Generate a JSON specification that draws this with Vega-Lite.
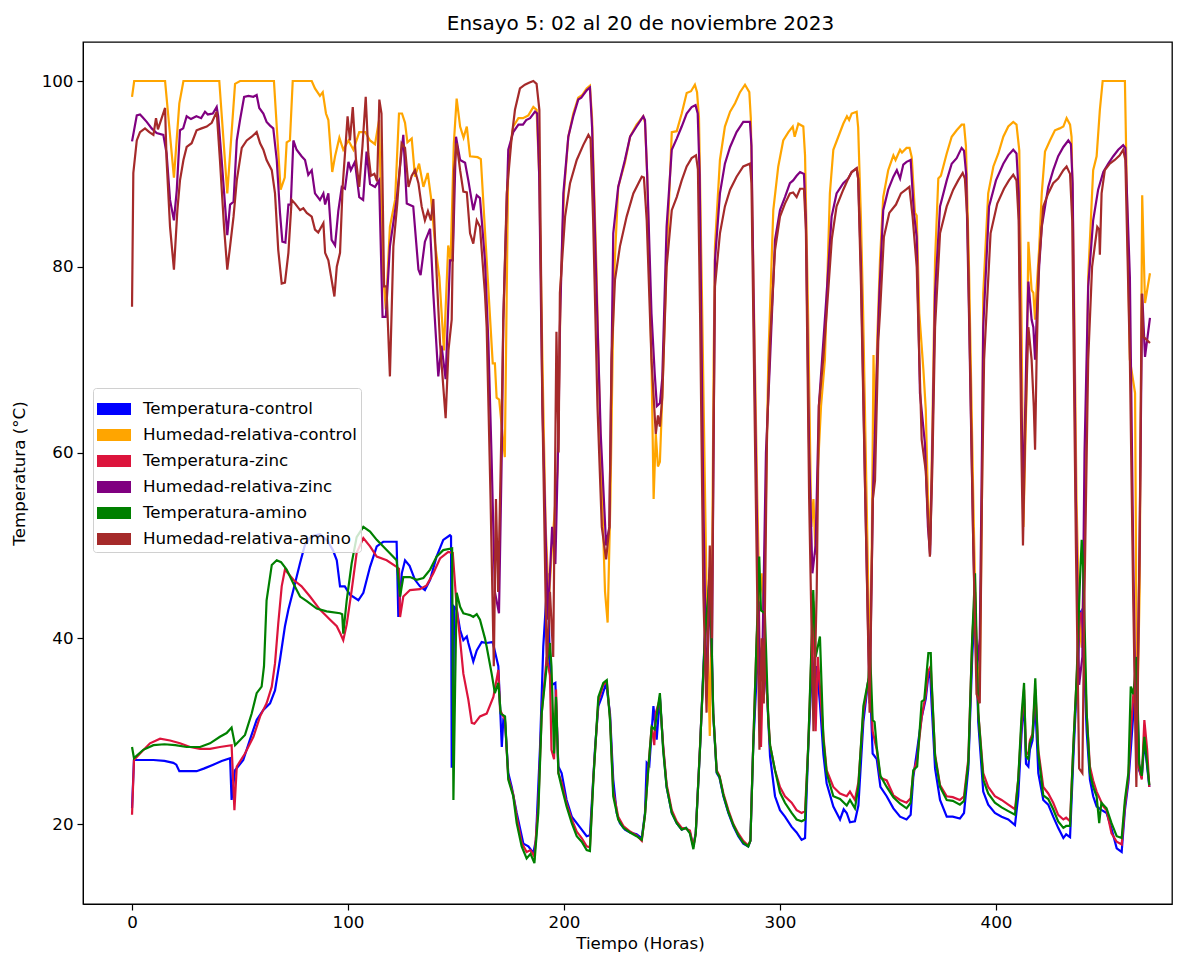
{
"$schema":"https://vega.github.io/schema/vega-lite/v6.json",
"width":1089,"height":862,
"autosize":{"type":"none"},
"padding":{"left":83,"top":42,"right":15,"bottom":52},
"background":"white",
"title":{"text":"Ensayo 5: 02 al 20 de noviembre 2023","fontSize":20,"font":"DejaVu Sans","fontWeight":"normal","color":"black","offset":8,"anchor":"middle","dx":13},
"config":{
"view":{"stroke":"black","strokeWidth":1.3},
"axis":{"labelFont":"DejaVu Sans","titleFont":"DejaVu Sans","labelFontSize":16.7,"titleFontSize":16.7,"labelColor":"black","titleColor":"black","tickColor":"black","domainColor":"black","tickSize":6,"tickWidth":1.2,"grid":false,"titleFontWeight":"normal","labelPadding":4}
},
"datasets":{
"TC":[{"h":0,"v":21.7},{"h":0.9,"v":26.9},{"h":9.9,"v":26.9},{"h":15,"v":26.8},{"h":19.1,"v":26.6},{"h":20.5,"v":26.4},{"h":21.9,"v":25.7},{"h":29.9,"v":25.7},{"h":33.5,"v":26},{"h":37.6,"v":26.4},{"h":41.5,"v":26.8},{"h":45.4,"v":27.1},{"h":46.1,"v":22.6},{"h":47.7,"v":25.8},{"h":51.5,"v":26.9},{"h":54.6,"v":29.1},{"h":57.7,"v":31.2},{"h":60.8,"v":32.3},{"h":63.9,"v":33},{"h":66.2,"v":34.4},{"h":68.5,"v":37.7},{"h":70.8,"v":41.3},{"h":72.4,"v":43.1},{"h":74.7,"v":45.2},{"h":77.8,"v":48.1},{"h":80.1,"v":50.1},{"h":83,"v":51},{"h":87,"v":51.2},{"h":90.5,"v":50.5},{"h":93,"v":49.5},{"h":94.8,"v":48.4},{"h":96.3,"v":45.6},{"h":98.5,"v":45.6},{"h":100.9,"v":44.7},{"h":104.8,"v":44.1},{"h":107.1,"v":44.9},{"h":110.2,"v":47.7},{"h":113.3,"v":49.9},{"h":116.3,"v":50.4},{"h":122.5,"v":50.4},{"h":123.3,"v":42.3},{"h":124.9,"v":47},{"h":126.4,"v":48.4},{"h":128.5,"v":47.8},{"h":131,"v":46.3},{"h":133.3,"v":45.6},{"h":135.6,"v":45.2},{"h":138,"v":46.3},{"h":141,"v":48.8},{"h":144.1,"v":50.6},{"h":147.2,"v":51.1},{"h":147.7,"v":51},{"h":148,"v":26.2},{"h":148.6,"v":26.2},{"h":149.1,"v":43.4},{"h":150.3,"v":43.1},{"h":151.9,"v":40.9},{"h":153.4,"v":39.8},{"h":155,"v":40.2},{"h":155.7,"v":39.5},{"h":158,"v":37.5},{"h":159.6,"v":38.7},{"h":161.9,"v":39.6},{"h":164,"v":39.5},{"h":167,"v":39.6},{"h":169.6,"v":37},{"h":171.2,"v":28.3},{"h":171.9,"v":31.2},{"h":172.7,"v":31},{"h":174.2,"v":25.5},{"h":175.8,"v":24},{"h":178.1,"v":21.2},{"h":181.2,"v":17.9},{"h":183.5,"v":17.6},{"h":185.8,"v":16.9},{"h":187,"v":18.3},{"h":188.9,"v":28.3},{"h":190.4,"v":39.1},{"h":192.5,"v":47},{"h":193.5,"v":36.3},{"h":194.5,"v":35},{"h":196,"v":35.2},{"h":197.4,"v":26.2},{"h":198.9,"v":25.5},{"h":201.2,"v":22.6},{"h":203.6,"v":20.8},{"h":205.9,"v":20.1},{"h":208.2,"v":19.4},{"h":210.5,"v":18.7},{"h":212,"v":18.8},{"h":214.4,"v":28.3},{"h":215.9,"v":32.7},{"h":217.5,"v":33.7},{"h":219.5,"v":35.2},{"h":221.3,"v":31.9},{"h":222.8,"v":24.8},{"h":224.4,"v":21.2},{"h":225.9,"v":20.1},{"h":228.2,"v":19.4},{"h":230.6,"v":19.1},{"h":233.6,"v":18.9},{"h":236,"v":18.5},{"h":237.5,"v":21.2},{"h":238.3,"v":26.6},{"h":239.5,"v":26.3},{"h":241.4,"v":32.7},{"h":242.9,"v":29.1},{"h":244.4,"v":33.7},{"h":245.9,"v":28.3},{"h":247.5,"v":24},{"h":249.9,"v":21.2},{"h":252.2,"v":20.1},{"h":254.5,"v":19.4},{"h":256.5,"v":19.6},{"h":258.3,"v":19.1},{"h":259.9,"v":17.6},{"h":261,"v":19.1},{"h":263,"v":28.3},{"h":265.3,"v":40.9},{"h":267.6,"v":47.7},{"h":268.4,"v":39.1},{"h":269.1,"v":31.9},{"h":270.7,"v":25.5},{"h":272,"v":25},{"h":273.8,"v":23},{"h":276.1,"v":21.2},{"h":278.4,"v":19.8},{"h":280.7,"v":18.7},{"h":283,"v":17.9},{"h":285.3,"v":17.6},{"h":286.3,"v":18.2},{"h":287.6,"v":28.3},{"h":289.2,"v":36},{"h":290.4,"v":39},{"h":291.5,"v":35.5},{"h":292.5,"v":38.4},{"h":294,"v":34},{"h":295.4,"v":27.3},{"h":297.7,"v":23},{"h":300,"v":21.5},{"h":302.3,"v":20.8},{"h":305.4,"v":19.7},{"h":307.7,"v":19.1},{"h":310,"v":18.3},{"h":311.6,"v":18.5},{"h":313.1,"v":28.3},{"h":315,"v":38},{"h":316,"v":35},{"h":317,"v":37},{"h":318.5,"v":33},{"h":320.1,"v":27.5},{"h":321.6,"v":24.4},{"h":324.7,"v":21.9},{"h":327.8,"v":20.5},{"h":329.5,"v":21.6},{"h":330.9,"v":21.2},{"h":332.4,"v":20.2},{"h":334.7,"v":20.3},{"h":336.3,"v":22},{"h":338.6,"v":31},{"h":340.9,"v":35.5},{"h":341.7,"v":35},{"h":342.9,"v":27.6},{"h":344.8,"v":27},{"h":346.5,"v":24},{"h":349.4,"v":23},{"h":352.5,"v":21.7},{"h":355.6,"v":20.8},{"h":358.6,"v":20.5},{"h":360.5,"v":21},{"h":361.7,"v":25},{"h":363.5,"v":28},{"h":365.6,"v":31.5},{"h":367.5,"v":33.5},{"h":368.7,"v":36},{"h":369.5,"v":36.5},{"h":370.2,"v":33},{"h":371.8,"v":26},{"h":374.1,"v":22.6},{"h":377.2,"v":20.8},{"h":380,"v":20.8},{"h":383.3,"v":20.6},{"h":385.2,"v":21.2},{"h":387.2,"v":26},{"h":389,"v":38},{"h":390.3,"v":44},{"h":391.8,"v":31},{"h":394.1,"v":23.5},{"h":396.4,"v":22.1},{"h":399.5,"v":21.2},{"h":402.6,"v":20.8},{"h":405.7,"v":20.5},{"h":408.8,"v":19.9},{"h":410.3,"v":23},{"h":411.9,"v":30},{"h":413,"v":33.5},{"h":413.9,"v":26.5},{"h":415,"v":26.2},{"h":415.7,"v":28},{"h":416.9,"v":29},{"h":418.2,"v":33},{"h":419.6,"v":25.5},{"h":421.9,"v":22.6},{"h":424.2,"v":22.1},{"h":426.5,"v":20.8},{"h":428.8,"v":19.6},{"h":431.2,"v":18.5},{"h":432.5,"v":18.9},{"h":434.3,"v":18.6},{"h":435.8,"v":27},{"h":437.3,"v":34.5},{"h":438.9,"v":42.7},{"h":439.7,"v":43},{"h":441,"v":36},{"h":442,"v":30},{"h":443.5,"v":24.8},{"h":445,"v":23},{"h":446.6,"v":21.9},{"h":449,"v":21.5},{"h":451.2,"v":21.2},{"h":453.5,"v":19.5},{"h":455.9,"v":17.4},{"h":458.2,"v":17},{"h":459.7,"v":21.5},{"h":461.3,"v":24.5},{"h":462.4,"v":28},{"h":463.6,"v":31.9},{"h":465.1,"v":37},{"h":466.3,"v":25.8},{"h":467.5,"v":25},{"h":468.7,"v":29},{"h":471,"v":24}],
"HC":[{"h":0,"v":98.3},{"h":1,"v":100},{"h":15.3,"v":100},{"h":19.4,"v":89.6},{"h":21.9,"v":97.6},{"h":23.8,"v":100},{"h":40.4,"v":100},{"h":44.1,"v":87.9},{"h":47.7,"v":99.7},{"h":50,"v":100},{"h":65.7,"v":100},{"h":68.8,"v":88.3},{"h":70.7,"v":89.6},{"h":71.6,"v":93.4},{"h":73.1,"v":93.6},{"h":74.4,"v":100},{"h":83.2,"v":100},{"h":84.7,"v":99.2},{"h":87,"v":98.4},{"h":88.3,"v":98.8},{"h":89.8,"v":96.5},{"h":90.9,"v":95.8},{"h":92.7,"v":90.2},{"h":94,"v":91.9},{"h":96,"v":93.9},{"h":97.8,"v":92.6},{"h":100.2,"v":93.6},{"h":102.5,"v":92.6},{"h":105.2,"v":94.5},{"h":108,"v":94.5},{"h":110.2,"v":93.6},{"h":112.5,"v":93.2},{"h":114.4,"v":95.8},{"h":116,"v":80},{"h":117.5,"v":75.4},{"h":119.4,"v":84.3},{"h":121.8,"v":87.2},{"h":123.6,"v":96.5},{"h":125,"v":96.5},{"h":126.4,"v":95.5},{"h":127.5,"v":93.4},{"h":129.5,"v":93.8},{"h":131,"v":89.7},{"h":132.9,"v":91.1},{"h":134.9,"v":88.6},{"h":136.9,"v":90.1},{"h":138.4,"v":87.5},{"h":140.3,"v":82.5},{"h":142.3,"v":78.9},{"h":144.4,"v":71},{"h":146.4,"v":82.3},{"h":147.5,"v":80.7},{"h":149,"v":93.3},{"h":150.3,"v":98.1},{"h":151.9,"v":95.1},{"h":153.5,"v":93.9},{"h":155,"v":95.1},{"h":156.5,"v":91.9},{"h":160,"v":91.8},{"h":161.5,"v":91.6},{"h":164.2,"v":80.7},{"h":167,"v":69.6},{"h":168,"v":69.6},{"h":168.8,"v":65.9},{"h":170,"v":65.7},{"h":171.5,"v":62},{"h":172.6,"v":59.5},{"h":174.2,"v":91.5},{"h":176.5,"v":95.1},{"h":178.9,"v":96},{"h":181,"v":96},{"h":183.5,"v":96.3},{"h":185.8,"v":97.2},{"h":187.3,"v":96.9},{"h":188.5,"v":90},{"h":190,"v":70},{"h":191.5,"v":52},{"h":193,"v":44},{"h":194.5,"v":50},{"h":195.5,"v":53},{"h":197,"v":58},{"h":198.5,"v":78},{"h":200,"v":88},{"h":202,"v":94},{"h":204.3,"v":96.5},{"h":206.6,"v":98.2},{"h":208.5,"v":98.5},{"h":210.5,"v":99.2},{"h":212,"v":99.5},{"h":213,"v":96},{"h":215,"v":80},{"h":217,"v":60},{"h":219,"v":45},{"h":220.2,"v":41.7},{"h":221.5,"v":55},{"h":223,"v":78},{"h":225.1,"v":88.6},{"h":228.2,"v":91.2},{"h":230.6,"v":94},{"h":233.6,"v":95.3},{"h":236.7,"v":96.2},{"h":237.5,"v":95.5},{"h":238.5,"v":90},{"h":240.5,"v":70},{"h":241.5,"v":55},{"h":242.5,"v":62},{"h":243.5,"v":58.5},{"h":244.4,"v":59},{"h":245.5,"v":66},{"h":247.5,"v":80.7},{"h":249.9,"v":94.5},{"h":252.2,"v":94.6},{"h":254.5,"v":96.5},{"h":256.8,"v":98.7},{"h":258.8,"v":98.9},{"h":260.6,"v":99.6},{"h":261.6,"v":98.8},{"h":262.5,"v":96},{"h":264,"v":75},{"h":266,"v":45},{"h":267.5,"v":29.5},{"h":268.5,"v":45},{"h":269.3,"v":70},{"h":269.9,"v":82.2},{"h":272.2,"v":91.5},{"h":274.5,"v":95.1},{"h":276.9,"v":96.7},{"h":279.2,"v":97.6},{"h":281.5,"v":98.8},{"h":283.8,"v":99.6},{"h":285.8,"v":98.8},{"h":286.5,"v":96},{"h":288,"v":75},{"h":289.5,"v":55},{"h":290.5,"v":44},{"h":291.5,"v":47},{"h":292.5,"v":43},{"h":293.5,"v":55},{"h":294.6,"v":70},{"h":296.9,"v":86.1},{"h":299.2,"v":90.8},{"h":301.5,"v":93.6},{"h":303.9,"v":94.5},{"h":305.9,"v":95.1},{"h":306.8,"v":94},{"h":308.5,"v":95.4},{"h":310.8,"v":95.1},{"h":311.6,"v":92},{"h":313,"v":75},{"h":314.5,"v":52},{"h":315.5,"v":55},{"h":316.5,"v":49},{"h":317.5,"v":58},{"h":319,"v":65},{"h":320.8,"v":70},{"h":323.1,"v":87.9},{"h":324.7,"v":92.6},{"h":327,"v":94},{"h":329.3,"v":95.4},{"h":331,"v":96.2},{"h":332,"v":95.8},{"h":333.2,"v":96.5},{"h":335.5,"v":96.7},{"h":336.2,"v":95},{"h":337.5,"v":85},{"h":338.5,"v":75},{"h":340.5,"v":50},{"h":341.5,"v":36},{"h":342.5,"v":50},{"h":343.3,"v":70.5},{"h":344,"v":62},{"h":345,"v":72},{"h":346.3,"v":80.7},{"h":347.8,"v":87.5},{"h":350.1,"v":90.4},{"h":352.5,"v":92},{"h":353.5,"v":91.5},{"h":355.6,"v":92.6},{"h":356.5,"v":92.3},{"h":358.6,"v":92.8},{"h":360,"v":92.8},{"h":361,"v":91.8},{"h":362.5,"v":85.8},{"h":363.3,"v":85.5},{"h":364.5,"v":75},{"h":366.4,"v":68.9},{"h":367.5,"v":64.6},{"h":368.5,"v":55},{"h":369.5,"v":50},{"h":370.5,"v":62},{"h":371.8,"v":80.7},{"h":373.3,"v":89.5},{"h":374.5,"v":89.8},{"h":377.2,"v":92.2},{"h":379.5,"v":94},{"h":381.8,"v":94.7},{"h":384.1,"v":95.3},{"h":385.2,"v":95.3},{"h":386.1,"v":93},{"h":387.5,"v":80},{"h":389.5,"v":55},{"h":391,"v":38},{"h":392.5,"v":35},{"h":393.5,"v":55},{"h":394.1,"v":77.1},{"h":396.4,"v":87.9},{"h":398.8,"v":90.8},{"h":401.1,"v":92.2},{"h":403.4,"v":94},{"h":405.7,"v":95.1},{"h":408,"v":95.6},{"h":409.5,"v":95.3},{"h":410.8,"v":92.5},{"h":411.8,"v":75},{"h":412.7,"v":52},{"h":414,"v":65},{"h":415,"v":82.7},{"h":416.5,"v":77.5},{"h":417.3,"v":77.2},{"h":418.1,"v":74.3},{"h":418.8,"v":77.5},{"h":420,"v":82},{"h":421.2,"v":87.9},{"h":422.7,"v":92.4},{"h":425,"v":93.6},{"h":427.3,"v":94.7},{"h":429.5,"v":94.9},{"h":431.2,"v":95.1},{"h":432.7,"v":96},{"h":434.3,"v":95.3},{"h":435,"v":94},{"h":436,"v":80},{"h":437.3,"v":55},{"h":438.5,"v":42},{"h":439.7,"v":39},{"h":441,"v":50},{"h":442.7,"v":78.9},{"h":445,"v":90.4},{"h":446.6,"v":91.9},{"h":448.1,"v":96.9},{"h":449.4,"v":100},{"h":459.7,"v":100},{"h":462,"v":70},{"h":464.4,"v":66.4},{"h":465.3,"v":30},{"h":466.5,"v":45},{"h":467.7,"v":87.7},{"h":469,"v":76.1},{"h":471.3,"v":79.3}],
"TZ":[{"h":0,"v":21},{"h":0.9,"v":26.9},{"h":3.7,"v":27.6},{"h":8.3,"v":28.7},{"h":13,"v":29.2},{"h":17.6,"v":29},{"h":22.2,"v":28.7},{"h":26.9,"v":28.3},{"h":31.5,"v":28.1},{"h":36.1,"v":28.1},{"h":40.7,"v":28.3},{"h":46.1,"v":28.5},{"h":47.4,"v":21.5},{"h":48.5,"v":26.2},{"h":52.3,"v":27.6},{"h":56.2,"v":29.4},{"h":59.3,"v":31.6},{"h":62.3,"v":33},{"h":64.7,"v":34.8},{"h":66.2,"v":37.3},{"h":67.7,"v":41.6},{"h":69.3,"v":45.6},{"h":70.8,"v":47.4},{"h":74.7,"v":46.3},{"h":78.5,"v":45.6},{"h":82.4,"v":44.5},{"h":87,"v":43.1},{"h":91.7,"v":42},{"h":94.8,"v":41.3},{"h":96.5,"v":40.5},{"h":97.8,"v":39.8},{"h":99.4,"v":41.5},{"h":101.7,"v":45.2},{"h":104,"v":49.2},{"h":107.1,"v":50.8},{"h":110.2,"v":49.9},{"h":113.3,"v":48.8},{"h":117.9,"v":48.4},{"h":122.5,"v":47.7},{"h":123.6,"v":47.5},{"h":124.1,"v":42.3},{"h":125.6,"v":44.5},{"h":128.7,"v":45.2},{"h":133.3,"v":45.3},{"h":136.4,"v":45.7},{"h":139.5,"v":47},{"h":142.6,"v":48.6},{"h":146.4,"v":49.3},{"h":148.5,"v":49.2},{"h":150.3,"v":43.4},{"h":151.9,"v":39.8},{"h":153.4,"v":36.2},{"h":155.7,"v":33.4},{"h":157.3,"v":30.9},{"h":158.5,"v":30.8},{"h":161.1,"v":31.6},{"h":164.2,"v":31.9},{"h":167.3,"v":33.7},{"h":169.6,"v":36.6},{"h":170.4,"v":32.3},{"h":172.7,"v":31.2},{"h":174.2,"v":25},{"h":176.5,"v":23.2},{"h":178.1,"v":20.8},{"h":180.4,"v":18},{"h":182.7,"v":17},{"h":184.5,"v":17.2},{"h":186.3,"v":16.5},{"h":188.1,"v":22},{"h":189.7,"v":32},{"h":192,"v":38},{"h":193.5,"v":36},{"h":194.2,"v":28},{"h":195.4,"v":27},{"h":196.3,"v":34.5},{"h":197.4,"v":25.5},{"h":198.9,"v":24.5},{"h":201.2,"v":22.2},{"h":203.6,"v":20.5},{"h":205.9,"v":19.2},{"h":208.2,"v":18.5},{"h":210.5,"v":17.6},{"h":212,"v":17.5},{"h":213.6,"v":25},{"h":215.9,"v":33.2},{"h":218.2,"v":35},{"h":219.8,"v":35.3},{"h":221.3,"v":31.5},{"h":222.8,"v":23.5},{"h":225.1,"v":20.8},{"h":227.5,"v":19.8},{"h":230.6,"v":19.2},{"h":233.6,"v":18.8},{"h":236,"v":18.2},{"h":237.5,"v":21},{"h":239,"v":26},{"h":240.6,"v":30.5},{"h":241.8,"v":28.5},{"h":242.5,"v":32},{"h":244.4,"v":33.5},{"h":245.9,"v":28.5},{"h":247.5,"v":24.3},{"h":249.9,"v":21.5},{"h":252.2,"v":20.3},{"h":254.5,"v":19.6},{"h":256.5,"v":19.5},{"h":258.3,"v":19.3},{"h":259.9,"v":17.6},{"h":261,"v":19},{"h":263,"v":28.5},{"h":265.3,"v":40},{"h":267.6,"v":46},{"h":268.4,"v":38},{"h":269.1,"v":31.9},{"h":270.7,"v":25.8},{"h":272,"v":25.2},{"h":273.8,"v":23.3},{"h":276.1,"v":21.5},{"h":278.4,"v":20},{"h":280.7,"v":19},{"h":283,"v":18.2},{"h":285.3,"v":17.7},{"h":286.3,"v":18.2},{"h":287.6,"v":28.5},{"h":289.2,"v":40},{"h":290.2,"v":44},{"h":291.2,"v":28.3},{"h":292.5,"v":40},{"h":294.6,"v":31.5},{"h":295.4,"v":28.5},{"h":297.7,"v":25.8},{"h":300,"v":24},{"h":302.3,"v":23},{"h":305.4,"v":22.3},{"h":307.7,"v":21.5},{"h":310,"v":21.2},{"h":311.6,"v":21.4},{"h":313.1,"v":28.5},{"h":315.4,"v":44},{"h":316.5,"v":30},{"h":317.5,"v":38},{"h":320.1,"v":29.5},{"h":321.6,"v":25.8},{"h":324.7,"v":24},{"h":327.8,"v":23.3},{"h":330.9,"v":23},{"h":332.4,"v":23.5},{"h":334.7,"v":22.6},{"h":336.3,"v":24.5},{"h":338.6,"v":32},{"h":340.9,"v":35.5},{"h":341.7,"v":36},{"h":342.9,"v":30},{"h":344.8,"v":28},{"h":346.5,"v":25},{"h":349.4,"v":24.7},{"h":352.5,"v":23.1},{"h":355.6,"v":22.6},{"h":358.6,"v":22.3},{"h":360.5,"v":22.8},{"h":361.7,"v":25.5},{"h":363.5,"v":27},{"h":365.6,"v":31.5},{"h":367.5,"v":34},{"h":368.7,"v":36.5},{"h":369.8,"v":37},{"h":370.2,"v":35},{"h":371.8,"v":27.5},{"h":374.1,"v":24.2},{"h":377.2,"v":23},{"h":380,"v":22.9},{"h":383.3,"v":22.6},{"h":385.2,"v":23},{"h":387.2,"v":27},{"h":389,"v":40},{"h":390.3,"v":45},{"h":391.8,"v":32},{"h":394.1,"v":25.5},{"h":396.4,"v":24},{"h":399.5,"v":23},{"h":402.6,"v":22.6},{"h":405.7,"v":22.1},{"h":408.8,"v":21.6},{"h":410.3,"v":24.8},{"h":411.9,"v":31},{"h":413,"v":34.5},{"h":413.9,"v":27.8},{"h":415,"v":27.5},{"h":415.7,"v":29},{"h":416.9,"v":29.7},{"h":418.2,"v":34.5},{"h":419.6,"v":28},{"h":421.9,"v":24},{"h":424.2,"v":23.3},{"h":426.5,"v":22.3},{"h":428.8,"v":21},{"h":431.2,"v":20.5},{"h":432.5,"v":20.7},{"h":434.3,"v":20.3},{"h":435.8,"v":28.3},{"h":437.3,"v":35.5},{"h":438.9,"v":42.7},{"h":439.7,"v":42.7},{"h":441,"v":38},{"h":442,"v":31.9},{"h":443.5,"v":26.2},{"h":445,"v":24.7},{"h":446.6,"v":23.5},{"h":449.7,"v":21.9},{"h":451.2,"v":21.5},{"h":453.5,"v":19},{"h":455.9,"v":18.1},{"h":458.2,"v":17.8},{"h":459.7,"v":22},{"h":461.3,"v":25},{"h":462.4,"v":30},{"h":463.6,"v":34},{"h":464.5,"v":33},{"h":465.1,"v":34.5},{"h":466.3,"v":26},{"h":467.5,"v":24.8},{"h":468.7,"v":31.2},{"h":470,"v":28},{"h":471,"v":24}],
"HZ":[{"h":0,"v":93.5},{"h":2.2,"v":96.3},{"h":3.7,"v":96.4},{"h":4.9,"v":96.1},{"h":6.8,"v":95.6},{"h":9.1,"v":94.9},{"h":11.4,"v":94.4},{"h":14.5,"v":94.2},{"h":16,"v":92.2},{"h":17.6,"v":87.2},{"h":19.4,"v":85},{"h":20.7,"v":88.2},{"h":22.2,"v":94.7},{"h":23.7,"v":94.9},{"h":25.3,"v":96.2},{"h":27.3,"v":95.9},{"h":29.8,"v":96.2},{"h":32,"v":96},{"h":33.8,"v":96.7},{"h":35.1,"v":96.4},{"h":37.4,"v":96.5},{"h":39.2,"v":97.2},{"h":39.9,"v":96.2},{"h":41.5,"v":91.5},{"h":43.1,"v":86.5},{"h":44.1,"v":83.4},{"h":45.4,"v":86.7},{"h":47,"v":87},{"h":48.5,"v":93.6},{"h":50,"v":95.8},{"h":51.9,"v":98.3},{"h":53.9,"v":98.4},{"h":56.2,"v":98.3},{"h":57.7,"v":98.5},{"h":58.9,"v":97.1},{"h":60.8,"v":96.5},{"h":62.3,"v":95.6},{"h":63.9,"v":95.2},{"h":65.4,"v":94.9},{"h":67,"v":91.5},{"h":68.5,"v":85.8},{"h":69.6,"v":82.7},{"h":71,"v":82.6},{"h":72.4,"v":86.7},{"h":73.5,"v":86.7},{"h":74.7,"v":93.6},{"h":76.2,"v":92.6},{"h":78.5,"v":91.9},{"h":80.1,"v":91.5},{"h":81.6,"v":89.9},{"h":83.2,"v":90.4},{"h":84.7,"v":87.9},{"h":87,"v":87.2},{"h":88.6,"v":87.9},{"h":89.4,"v":86.7},{"h":90.9,"v":87.9},{"h":92.4,"v":82.9},{"h":94,"v":82.3},{"h":95.5,"v":86},{"h":97.1,"v":88.6},{"h":98.6,"v":88.4},{"h":100.2,"v":91.3},{"h":101.3,"v":90.4},{"h":103.2,"v":91.3},{"h":105.2,"v":87.5},{"h":107,"v":87.2},{"h":108.6,"v":92.4},{"h":110.2,"v":88.9},{"h":112.5,"v":88.6},{"h":114.4,"v":89.3},{"h":116,"v":74.6},{"h":117.5,"v":74.6},{"h":119.4,"v":82.2},{"h":122.5,"v":87.2},{"h":125.6,"v":94.2},{"h":127.2,"v":86.8},{"h":130.2,"v":86.5},{"h":132.6,"v":79.7},{"h":133.6,"v":79.1},{"h":135.6,"v":82.7},{"h":138,"v":84.1},{"h":139.5,"v":77.1},{"h":141.8,"v":68.2},{"h":143.3,"v":71.5},{"h":145.2,"v":67.9},{"h":147.2,"v":80.7},{"h":148.5,"v":80.7},{"h":150,"v":94},{"h":151.9,"v":91.5},{"h":154.2,"v":91.2},{"h":155.7,"v":89.3},{"h":158,"v":86.1},{"h":159.6,"v":87.7},{"h":161.1,"v":87.4},{"h":163.4,"v":80.7},{"h":165,"v":71.8},{"h":166.5,"v":59.2},{"h":168,"v":45},{"h":169.9,"v":42.7},{"h":171.2,"v":60},{"h":171.9,"v":74.3},{"h":174.2,"v":92.6},{"h":176.5,"v":94.5},{"h":178.9,"v":95.3},{"h":181,"v":95.3},{"h":182.5,"v":95.8},{"h":184.3,"v":96},{"h":186.6,"v":96.7},{"h":187.6,"v":96.5},{"h":188.5,"v":90},{"h":190,"v":65},{"h":192.5,"v":42},{"h":194.5,"v":52},{"h":196,"v":48},{"h":197.5,"v":63},{"h":198.1,"v":73.5},{"h":199.7,"v":87.9},{"h":202,"v":94},{"h":204.3,"v":96.2},{"h":206.6,"v":98},{"h":208,"v":98.2},{"h":210.5,"v":99},{"h":212,"v":99.3},{"h":213,"v":95},{"h":215,"v":78},{"h":217,"v":62},{"h":219.5,"v":50},{"h":221,"v":52},{"h":222.8,"v":83.6},{"h":225.1,"v":88.6},{"h":228.2,"v":91.5},{"h":230.6,"v":94},{"h":233.6,"v":95.1},{"h":236.7,"v":96.2},{"h":237.5,"v":95.8},{"h":238.5,"v":90},{"h":240.5,"v":75},{"h":242,"v":68.5},{"h":243,"v":65},{"h":244.4,"v":65.3},{"h":245.5,"v":68},{"h":247.5,"v":84.3},{"h":249.9,"v":92.6},{"h":252.2,"v":93.8},{"h":254.5,"v":95.1},{"h":256.8,"v":96.5},{"h":259.1,"v":97.2},{"h":260.9,"v":97.4},{"h":261.9,"v":96.5},{"h":262.8,"v":90},{"h":264.5,"v":55},{"h":266,"v":34},{"h":267.5,"v":45},{"h":268.5,"v":38},{"h":269.9,"v":80.7},{"h":272.2,"v":87.9},{"h":274.5,"v":91.1},{"h":276.9,"v":92.9},{"h":279.9,"v":94.5},{"h":283,"v":95.6},{"h":286.1,"v":95.6},{"h":286.8,"v":93},{"h":288.5,"v":65},{"h":290.5,"v":36},{"h":292,"v":40},{"h":293.5,"v":60},{"h":295.4,"v":70},{"h":297.7,"v":82.9},{"h":300,"v":86.1},{"h":302.3,"v":87.5},{"h":304.6,"v":89},{"h":306.1,"v":89.3},{"h":307.7,"v":89.8},{"h":309.3,"v":90.2},{"h":311.1,"v":90},{"h":312,"v":85},{"h":313.5,"v":60},{"h":315,"v":47},{"h":316.5,"v":50},{"h":318,"v":65},{"h":321.6,"v":77.1},{"h":323.9,"v":85.4},{"h":326.2,"v":87.9},{"h":329.3,"v":89},{"h":331.6,"v":89.5},{"h":333.2,"v":90.2},{"h":335.5,"v":90.6},{"h":336.2,"v":89.5},{"h":337.5,"v":80},{"h":339.5,"v":55},{"h":341.5,"v":33},{"h":343,"v":55},{"h":345,"v":70},{"h":346,"v":77.1},{"h":347.8,"v":86.1},{"h":350.1,"v":88.3},{"h":352.5,"v":89.7},{"h":354.1,"v":90.4},{"h":355.6,"v":89.5},{"h":357.1,"v":91},{"h":358.6,"v":91.3},{"h":360.5,"v":91.5},{"h":362,"v":85.8},{"h":363.3,"v":83.2},{"h":364.8,"v":66.4},{"h":367.1,"v":61},{"h":368.5,"v":52},{"h":369.5,"v":49},{"h":370.5,"v":60},{"h":371.8,"v":77.1},{"h":374.1,"v":86.5},{"h":377.2,"v":89.3},{"h":379.5,"v":91.1},{"h":381.8,"v":91.7},{"h":384.1,"v":92.8},{"h":385.2,"v":92.5},{"h":386.2,"v":90},{"h":387.5,"v":75},{"h":389.5,"v":50},{"h":391,"v":36},{"h":392.5,"v":40},{"h":393.5,"v":60},{"h":394.1,"v":73.5},{"h":396.8,"v":86.5},{"h":400,"v":89.3},{"h":403.4,"v":91.1},{"h":405.7,"v":92},{"h":408,"v":92.6},{"h":409.5,"v":92.2},{"h":410.5,"v":88},{"h":411.8,"v":65},{"h":412.7,"v":55},{"h":414,"v":70},{"h":415,"v":78.4},{"h":416.5,"v":74.3},{"h":417.3,"v":73.5},{"h":418.1,"v":70},{"h":418.8,"v":74.3},{"h":420,"v":80},{"h":421.2,"v":84.3},{"h":424.2,"v":88.6},{"h":426.5,"v":90.4},{"h":428.8,"v":91.9},{"h":431.2,"v":92.9},{"h":433.5,"v":93.6},{"h":434.7,"v":93.2},{"h":435.5,"v":89},{"h":437,"v":55},{"h":438.5,"v":35},{"h":440,"v":38},{"h":441,"v":60},{"h":442.7,"v":77.9},{"h":445,"v":85},{"h":447.3,"v":88.3},{"h":449.7,"v":90.2},{"h":452,"v":91.1},{"h":454.3,"v":91.9},{"h":456.6,"v":92.6},{"h":458.9,"v":93.1},{"h":459.9,"v":92.8},{"h":462,"v":78.9},{"h":463.5,"v":50},{"h":465,"v":26},{"h":466.5,"v":50},{"h":467.7,"v":77.1},{"h":469,"v":70.3},{"h":471.3,"v":74.5}],
"TA":[{"h":0,"v":28.3},{"h":0.9,"v":27.1},{"h":5.2,"v":28},{"h":9.9,"v":28.5},{"h":15,"v":28.6},{"h":20,"v":28.5},{"h":25.3,"v":28.3},{"h":31.5,"v":28.3},{"h":36.1,"v":28.7},{"h":40.7,"v":29.4},{"h":43.8,"v":29.8},{"h":46.1,"v":30.4},{"h":47.7,"v":28.5},{"h":52.3,"v":29.6},{"h":55.4,"v":31.9},{"h":57.7,"v":34.1},{"h":60,"v":34.8},{"h":61.1,"v":37},{"h":62.3,"v":44.1},{"h":64.7,"v":47.9},{"h":67,"v":48.4},{"h":69,"v":48.2},{"h":71.6,"v":47.4},{"h":74.7,"v":45.9},{"h":77.8,"v":44.5},{"h":80.9,"v":44},{"h":85.5,"v":43.2},{"h":90.1,"v":42.9},{"h":96.3,"v":42.7},{"h":97.3,"v":42.6},{"h":97.8,"v":40.5},{"h":99.4,"v":44.1},{"h":101.7,"v":48.1},{"h":104,"v":50.9},{"h":107.1,"v":52},{"h":110.2,"v":51.5},{"h":113.3,"v":50.6},{"h":117.9,"v":49.5},{"h":122.5,"v":48.4},{"h":124.1,"v":44.5},{"h":125.6,"v":46.6},{"h":128.7,"v":46.6},{"h":131.8,"v":46.3},{"h":134.9,"v":46.5},{"h":138,"v":47.4},{"h":141,"v":48.8},{"h":144.1,"v":49.5},{"h":148.2,"v":49.7},{"h":148.8,"v":22.6},{"h":149.6,"v":35},{"h":150.3,"v":44.9},{"h":151.9,"v":43.4},{"h":153.4,"v":42.7},{"h":155,"v":42.6},{"h":156.5,"v":42.5},{"h":158,"v":42.3},{"h":159.6,"v":42.6},{"h":161.1,"v":42},{"h":163.4,"v":40},{"h":164.2,"v":39.1},{"h":166.5,"v":36.2},{"h":168,"v":34.1},{"h":169.6,"v":35.2},{"h":170.7,"v":31.9},{"h":172.7,"v":31.6},{"h":174.2,"v":24.8},{"h":176.5,"v":23},{"h":178.1,"v":20.1},{"h":180.4,"v":17.6},{"h":182.7,"v":16.3},{"h":184.5,"v":16.8},{"h":186.3,"v":15.8},{"h":188.1,"v":21.2},{"h":189.7,"v":32},{"h":192,"v":37},{"h":193.5,"v":39.5},{"h":194.2,"v":37},{"h":195.4,"v":27.6},{"h":196.3,"v":33.7},{"h":197.4,"v":25.5},{"h":198.9,"v":24},{"h":201.2,"v":21.9},{"h":203.6,"v":20.1},{"h":205.9,"v":18.7},{"h":208.2,"v":18.1},{"h":210.5,"v":17.2},{"h":212,"v":17.1},{"h":213.6,"v":24.8},{"h":215.9,"v":33.7},{"h":218.2,"v":35.2},{"h":219.8,"v":35.5},{"h":221.3,"v":31.2},{"h":222.8,"v":23},{"h":225.1,"v":20.5},{"h":227.5,"v":19.6},{"h":230.6,"v":19.1},{"h":233.6,"v":18.7},{"h":236,"v":18.3},{"h":237.5,"v":21},{"h":239,"v":25.8},{"h":240.6,"v":30.5},{"h":242,"v":30.2},{"h":244.4,"v":34.1},{"h":245.9,"v":28},{"h":247.5,"v":24},{"h":249.9,"v":21.2},{"h":252.2,"v":20.1},{"h":254.5,"v":19.4},{"h":256.5,"v":19.6},{"h":258.3,"v":19},{"h":259.9,"v":17.3},{"h":261,"v":19},{"h":263,"v":28.3},{"h":265.3,"v":40.5},{"h":267.6,"v":47},{"h":268.4,"v":39},{"h":269.1,"v":31.9},{"h":270.7,"v":25.6},{"h":272,"v":25.1},{"h":273.8,"v":23.1},{"h":276.1,"v":21.3},{"h":278.4,"v":19.9},{"h":280.7,"v":18.8},{"h":283,"v":18},{"h":285.3,"v":17.6},{"h":286.3,"v":18.2},{"h":287.6,"v":28.3},{"h":289.2,"v":40},{"h":290.4,"v":48.8},{"h":291.2,"v":43},{"h":293,"v":42.7},{"h":294.6,"v":31.2},{"h":295.4,"v":28.5},{"h":297.7,"v":25.8},{"h":300,"v":23.4},{"h":302.3,"v":22.3},{"h":305.4,"v":21.2},{"h":307.7,"v":20.5},{"h":310,"v":20.3},{"h":311.6,"v":20.5},{"h":313.1,"v":28.5},{"h":315.4,"v":45.2},{"h":316.5,"v":38},{"h":318.5,"v":40.2},{"h":320.1,"v":29.1},{"h":321.6,"v":25.5},{"h":324.7,"v":23},{"h":327.8,"v":22.7},{"h":330.9,"v":22},{"h":332.4,"v":22.6},{"h":334.7,"v":21.7},{"h":336.3,"v":24},{"h":338.6,"v":32.7},{"h":340.9,"v":35.5},{"h":341.7,"v":38.7},{"h":342.9,"v":31.2},{"h":343.8,"v":31},{"h":344.8,"v":28.3},{"h":346.5,"v":25.2},{"h":349.4,"v":24},{"h":352.5,"v":22.9},{"h":355.6,"v":22.2},{"h":358.6,"v":21.7},{"h":360.5,"v":22.3},{"h":361.7,"v":25.8},{"h":363.5,"v":26.2},{"h":365.6,"v":33.2},{"h":366.8,"v":33.4},{"h":368.7,"v":38.4},{"h":369.8,"v":38.4},{"h":370.2,"v":35.5},{"h":371.8,"v":27.3},{"h":374.1,"v":24},{"h":377.2,"v":22.6},{"h":380,"v":22.5},{"h":383.3,"v":22.1},{"h":385.2,"v":22.5},{"h":387.2,"v":26.6},{"h":389,"v":40},{"h":390.3,"v":47},{"h":391.8,"v":32},{"h":394.1,"v":24.8},{"h":396.4,"v":23.3},{"h":399.5,"v":22.3},{"h":402.6,"v":21.8},{"h":405.7,"v":21.4},{"h":408.8,"v":21},{"h":410.3,"v":24.8},{"h":411.9,"v":31.9},{"h":413,"v":35.2},{"h":413.9,"v":27.3},{"h":415,"v":27},{"h":415.7,"v":28.7},{"h":416.9,"v":29.4},{"h":418.2,"v":35.7},{"h":419.6,"v":27.6},{"h":421.9,"v":23.1},{"h":424.2,"v":22.7},{"h":426.5,"v":21.6},{"h":428.8,"v":20.3},{"h":431.2,"v":19.6},{"h":432.5,"v":19.8},{"h":434.3,"v":19.8},{"h":435.8,"v":28.3},{"h":437.3,"v":35.5},{"h":438.9,"v":46.3},{"h":439.7,"v":50.6},{"h":440.5,"v":47},{"h":442,"v":31.9},{"h":443.5,"v":25.5},{"h":445,"v":24},{"h":446.6,"v":23},{"h":447.8,"v":20.1},{"h":448.8,"v":22.3},{"h":451.2,"v":21.7},{"h":453.5,"v":20.1},{"h":455.9,"v":18.7},{"h":458.2,"v":18.5},{"h":459.7,"v":22.6},{"h":461.3,"v":25.5},{"h":462.4,"v":34.8},{"h":463.6,"v":34},{"h":465.1,"v":38},{"h":466.3,"v":26.5},{"h":467.5,"v":25.2},{"h":468.7,"v":29.4},{"h":471,"v":24.2}],
"HA":[{"h":0,"v":75.7},{"h":0.6,"v":90.1},{"h":2.2,"v":93.6},{"h":3.7,"v":94.5},{"h":6,"v":94.9},{"h":8,"v":94.5},{"h":9.9,"v":94.2},{"h":11.1,"v":96},{"h":12,"v":94.8},{"h":13,"v":95.5},{"h":15.3,"v":97.1},{"h":16,"v":91.5},{"h":17.6,"v":84.3},{"h":19.4,"v":79.7},{"h":21,"v":86.1},{"h":22.2,"v":89.3},{"h":23.8,"v":91.5},{"h":25.3,"v":92.9},{"h":27.6,"v":93.3},{"h":29.9,"v":94.7},{"h":32.2,"v":94.9},{"h":34.6,"v":95.1},{"h":36.9,"v":95.5},{"h":39.2,"v":96.7},{"h":40.7,"v":91.5},{"h":42.6,"v":84.3},{"h":44.1,"v":79.7},{"h":45.4,"v":82.2},{"h":47,"v":85.4},{"h":48.5,"v":89.3},{"h":50.8,"v":92.8},{"h":53.1,"v":93.6},{"h":55.4,"v":94},{"h":57.7,"v":94.5},{"h":59.3,"v":93.3},{"h":60.8,"v":92.6},{"h":62.3,"v":91.5},{"h":64.7,"v":90.4},{"h":66.2,"v":87.9},{"h":67.7,"v":81.8},{"h":69.3,"v":78.2},{"h":70.8,"v":78.3},{"h":72.4,"v":81.5},{"h":73.9,"v":87.2},{"h":75.5,"v":86.8},{"h":77.8,"v":86.1},{"h":79.3,"v":86.3},{"h":80.9,"v":85.8},{"h":83.2,"v":85.4},{"h":84.7,"v":84},{"h":86.2,"v":83.7},{"h":88.6,"v":84.7},{"h":89.4,"v":81.5},{"h":90.9,"v":80.7},{"h":92.4,"v":78.6},{"h":93.7,"v":76.8},{"h":94.8,"v":80},{"h":96.3,"v":81.5},{"h":97.5,"v":88.6},{"h":98.6,"v":92.2},{"h":99.8,"v":96.2},{"h":100.9,"v":93.6},{"h":102.2,"v":97.2},{"h":103.7,"v":91.5},{"h":105.2,"v":88.6},{"h":106.7,"v":93},{"h":108.2,"v":98.3},{"h":109.4,"v":92.2},{"h":110.6,"v":89.8},{"h":112.2,"v":90},{"h":113.5,"v":89.2},{"h":114.5,"v":98},{"h":115.5,"v":96.5},{"h":116.7,"v":77.9},{"h":117.8,"v":77.9},{"h":119.4,"v":68.2},{"h":121,"v":82.2},{"h":122.8,"v":86.8},{"h":124.8,"v":93.3},{"h":126.4,"v":92.8},{"h":128,"v":88.6},{"h":129.5,"v":89.8},{"h":131,"v":90.4},{"h":132.6,"v":89},{"h":134.1,"v":86.5},{"h":135.6,"v":85},{"h":137,"v":86},{"h":138.4,"v":85},{"h":139.5,"v":87.3},{"h":141,"v":79.3},{"h":142.6,"v":71.8},{"h":145.2,"v":63.7},{"h":146.5,"v":71},{"h":148,"v":74.3},{"h":149.1,"v":90.4},{"h":150.3,"v":93.3},{"h":151.9,"v":90.4},{"h":153.4,"v":88.1},{"h":155,"v":88},{"h":156.5,"v":83.6},{"h":158,"v":82.5},{"h":159.6,"v":85},{"h":161.1,"v":84.3},{"h":163.4,"v":77.1},{"h":164.2,"v":73.5},{"h":166,"v":55},{"h":167.5,"v":37},{"h":168.5,"v":55},{"h":169.5,"v":45},{"h":171,"v":62},{"h":171.9,"v":74.3},{"h":173.5,"v":87.9},{"h":175.8,"v":94},{"h":177.3,"v":96.9},{"h":179.6,"v":99.2},{"h":181.9,"v":99.6},{"h":183.8,"v":99.8},{"h":185.8,"v":100},{"h":187.3,"v":99.7},{"h":188.6,"v":96.9},{"h":190,"v":65},{"h":192,"v":37},{"h":193.5,"v":45},{"h":195,"v":38},{"h":196.5,"v":73},{"h":197.5,"v":60},{"h":198.1,"v":77.2},{"h":200.5,"v":85.4},{"h":202.8,"v":89},{"h":205.9,"v":91.5},{"h":208.9,"v":93.1},{"h":211.3,"v":94.2},{"h":212.3,"v":93.8},{"h":213.5,"v":85},{"h":215.5,"v":65},{"h":217.5,"v":52},{"h":219.5,"v":48.5},{"h":221,"v":52},{"h":222,"v":70},{"h":223.6,"v":78.6},{"h":225.9,"v":82.2},{"h":229,"v":85.4},{"h":232.1,"v":87.9},{"h":236,"v":89.7},{"h":237,"v":89.6},{"h":238.3,"v":85},{"h":240.5,"v":70},{"h":242.5,"v":62},{"h":243.5,"v":64},{"h":244.4,"v":62.8},{"h":245.5,"v":66},{"h":247.5,"v":80},{"h":249.9,"v":86.1},{"h":252.2,"v":87.5},{"h":254.5,"v":89.3},{"h":256.8,"v":90.8},{"h":259.1,"v":91.7},{"h":261.1,"v":92},{"h":262,"v":90.5},{"h":263,"v":75},{"h":264.5,"v":45},{"h":266,"v":32},{"h":267.5,"v":50},{"h":268.5,"v":40},{"h":269.2,"v":60},{"h":269.9,"v":77.9},{"h":272.2,"v":83.6},{"h":274.5,"v":86.5},{"h":276.9,"v":88.3},{"h":279.9,"v":89.7},{"h":283,"v":90.8},{"h":286.1,"v":91.1},{"h":286.8,"v":89},{"h":288.5,"v":60},{"h":290.5,"v":28},{"h":291.5,"v":40},{"h":292.5,"v":33},{"h":294,"v":62},{"h":295.4,"v":72},{"h":297.7,"v":81.8},{"h":300,"v":85.4},{"h":302.3,"v":86.8},{"h":304.6,"v":87.9},{"h":306.1,"v":88},{"h":307.7,"v":87.5},{"h":309.3,"v":88.4},{"h":311.1,"v":88.4},{"h":312,"v":84},{"h":313.5,"v":55},{"h":315.5,"v":30},{"h":317,"v":45},{"h":318,"v":65},{"h":320,"v":70},{"h":321.6,"v":75},{"h":324,"v":83},{"h":326.2,"v":86.5},{"h":329.3,"v":88.3},{"h":331.6,"v":89.5},{"h":333.2,"v":90.2},{"h":335.5,"v":90.6},{"h":336.2,"v":89.5},{"h":337.5,"v":78},{"h":339.5,"v":55},{"h":341.5,"v":32},{"h":343,"v":55},{"h":344,"v":57},{"h":345.5,"v":72},{"h":346.3,"v":75},{"h":348.1,"v":83.2},{"h":350.6,"v":85.8},{"h":353.7,"v":86.7},{"h":356,"v":87.9},{"h":358.3,"v":88.3},{"h":359.9,"v":88.6},{"h":361.4,"v":85.4},{"h":363.3,"v":80},{"h":365.6,"v":61.4},{"h":367.5,"v":58},{"h":369.4,"v":48.8},{"h":370.5,"v":58},{"h":371.8,"v":73.5},{"h":374.1,"v":83.6},{"h":377.2,"v":86.5},{"h":380.2,"v":88.3},{"h":382.5,"v":89.3},{"h":384.6,"v":90.1},{"h":385.6,"v":89.5},{"h":386.8,"v":85},{"h":388,"v":70},{"h":389.5,"v":50},{"h":391,"v":34},{"h":392.5,"v":33},{"h":393.5,"v":55},{"h":394.5,"v":70},{"h":397.5,"v":83.6},{"h":400.6,"v":86.8},{"h":403.7,"v":88.4},{"h":406,"v":89.3},{"h":408,"v":89.9},{"h":409.5,"v":89.3},{"h":410.5,"v":85},{"h":411.8,"v":60},{"h":412.5,"v":50},{"h":413.5,"v":62},{"h":415,"v":73.5},{"h":416.5,"v":70},{"h":417.5,"v":65},{"h":418.1,"v":60.3},{"h":418.8,"v":70},{"h":419.8,"v":80},{"h":421.9,"v":86.5},{"h":424.2,"v":87.9},{"h":426.5,"v":89},{"h":428.8,"v":89.5},{"h":431.2,"v":90.4},{"h":432.7,"v":90.8},{"h":434.3,"v":90},{"h":435.3,"v":85},{"h":437,"v":50},{"h":438.5,"v":26},{"h":440,"v":25.5},{"h":441,"v":45},{"h":442.7,"v":70},{"h":444.5,"v":80},{"h":446.9,"v":84.3},{"h":447.8,"v":84},{"h":448.1,"v":81.3},{"h":448.9,"v":87.9},{"h":450.4,"v":90.4},{"h":452.7,"v":91.1},{"h":455,"v":91.5},{"h":457.3,"v":92},{"h":458.9,"v":92.6},{"h":459.9,"v":91.5},{"h":462,"v":70},{"h":463.5,"v":45},{"h":465,"v":24},{"h":466.5,"v":50},{"h":467.5,"v":77.1},{"h":468.2,"v":72.5},{"h":471.3,"v":71.8}]
},
"encoding":{
"x":{"field":"h","type":"quantitative","scale":{"domain":[-22.7,481.5],"nice":false,"zero":false},"axis":{"values":[0,100,200,300,400],"title":"Tiempo (Horas)","titlePadding":5,"titleX":557}},
"y":{"field":"v","type":"quantitative","scale":{"domain":[11.4,104.2],"nice":false,"zero":false},"axis":{"values":[20,40,60,80,100],"title":"Temperatura (°C)","titlePadding":13}}
},
"layer":[
{"data":{"name":"TC"},"mark":{"type":"line","strokeWidth":2.2,"clip":true},"encoding":{"color":{"datum":"Temperatura-control","scale":{"domain":["Temperatura-control","Humedad-relativa-control","Temperatura-zinc","Humedad-relativa-zinc","Temperatura-amino","Humedad-relativa-amino"],"range":["#0000ff","#ffa500","#dc143c","#800080","#008000","#a52a2a"]},"legend":{"orient":"none","legendX":10,"legendY":346,"title":null,"labelFont":"DejaVu Sans","labelFontSize":16.7,"labelColor":"black","labelLimit":0,"symbolType":"M-1,-0.35L1,-0.35L1,0.35L-1,0.35Z","symbolSize":1156,"symbolStrokeWidth":0,"labelOffset":12,"rowPadding":0,"padding":4,"strokeColor":"#d0d0d0","fillColor":"rgba(255,255,255,0.8)","cornerRadius":3,"encode":{"symbols":{"update":{"fill":{"scale":"color","field":"value"},"strokeWidth":{"value":0},"opacity":{"value":1}}}}}}}},
{"data":{"name":"HC"},"mark":{"type":"line","strokeWidth":2.2,"clip":true},"encoding":{"color":{"datum":"Humedad-relativa-control"}}},
{"data":{"name":"TZ"},"mark":{"type":"line","strokeWidth":2.2,"clip":true},"encoding":{"color":{"datum":"Temperatura-zinc"}}},
{"data":{"name":"HZ"},"mark":{"type":"line","strokeWidth":2.2,"clip":true},"encoding":{"color":{"datum":"Humedad-relativa-zinc"}}},
{"data":{"name":"TA"},"mark":{"type":"line","strokeWidth":2.2,"clip":true},"encoding":{"color":{"datum":"Temperatura-amino"}}},
{"data":{"name":"HA"},"mark":{"type":"line","strokeWidth":2.2,"clip":true},"encoding":{"color":{"datum":"Humedad-relativa-amino"}}}
]
}
